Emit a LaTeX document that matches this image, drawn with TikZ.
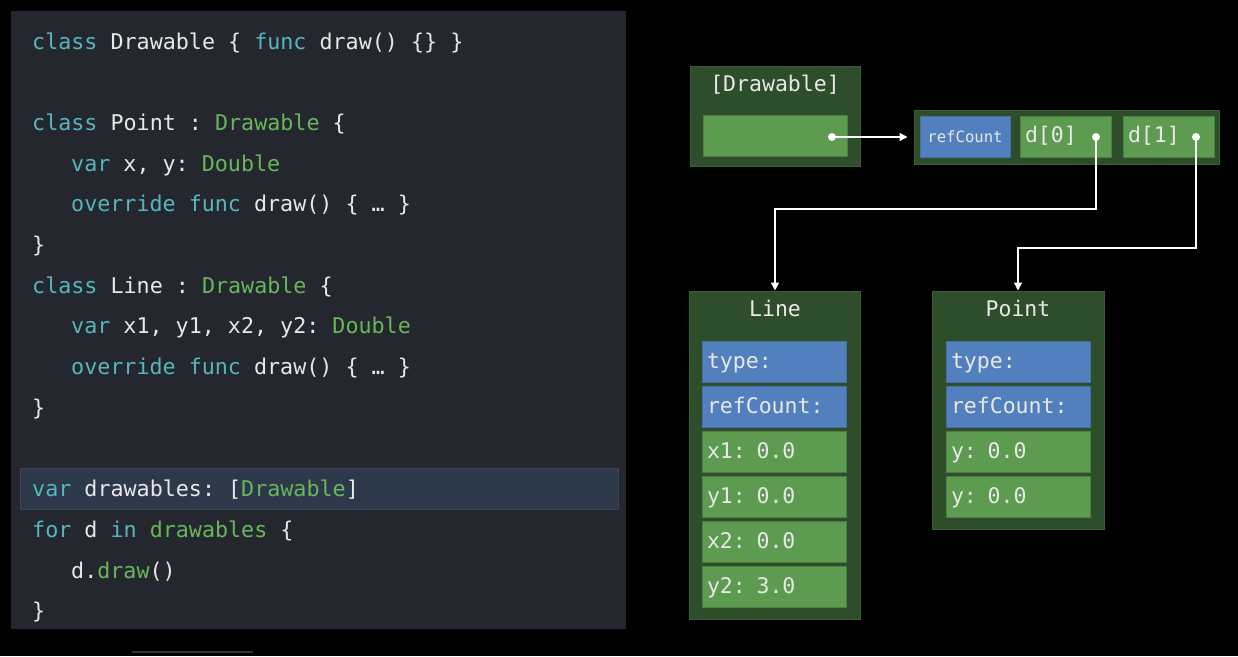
\documentclass[tikz,border=0pt]{standalone}
\usepackage{fontspec}
\setmonofont{DejaVu Sans Mono}
\usepackage{xcolor}
\usetikzlibrary{calc}
\usetikzlibrary{arrows.meta}

\definecolor{panelbg}{HTML}{25272F}
\definecolor{hlbg}{HTML}{2D394B}
\definecolor{hledge}{HTML}{3A4658}
\definecolor{kwteal}{HTML}{55B6BE}
\definecolor{typegreen}{HTML}{67B75A}
\definecolor{codewhite}{HTML}{E8E8E8}
\definecolor{boxfill}{HTML}{2E4D2A}
\definecolor{boxedge}{HTML}{3B5D36}
\definecolor{cellgreen}{HTML}{5D9B51}
\definecolor{celledge}{HTML}{4A7F41}
\definecolor{metablue}{HTML}{5280BF}
\definecolor{metaedge}{HTML}{456EA6}

\newcommand{\kwd}[1]{\textcolor{kwteal}{#1}}
\newcommand{\typ}[1]{\textcolor{typegreen}{#1}}

\begin{document}
\begin{tikzpicture}[x=1pt,y=-1pt]
        \tikzstyle{codeline} = [anchor=base west, inner sep=0pt, text=codewhite, font=\ttfamily\fontsize{21.7}{26}\selectfont]
        \tikzstyle{objbox} = [rectangle, draw=boxedge, fill=boxfill, line width=1pt, inner sep=0pt]
        \tikzstyle{boxtitle} = [anchor=base, inner sep=0pt, text=codewhite, font=\ttfamily\fontsize{21.5}{25}\selectfont]
        \tikzstyle{field} = [rectangle, line width=0.8pt, minimum width=144pt, minimum height=41pt, text width=134pt, inner xsep=5pt, inner ysep=0pt, align=left, text height=16pt, text depth=4pt, text=codewhite, font=\ttfamily\fontsize{21.5}{25}\selectfont]
        \tikzstyle{valcell} = [field, draw=celledge, fill=cellgreen]
        \tikzstyle{metacell} = [field, draw=metaedge, fill=metablue]
        \tikzstyle{ptrdot} = [circle, fill=white, minimum size=8pt, inner sep=0pt]
        \tikzstyle{ptr} = [draw=white, line width=1.5pt, -{Triangle[length=8pt,width=8pt]}]

        \fill[black] (0,0) rectangle (1238,656);
        \useasboundingbox (0,0) rectangle (1238,656);
        \draw[line width=2pt, color=black!80!white] (132,652) -- (253,652);

        % code panel
        \node[rectangle, fill=panelbg, minimum width=615pt, minimum height=618pt, inner sep=0pt] (panel) at (318.5,320) {};
        \node[rectangle, fill=hlbg, draw=hledge, line width=1pt, minimum width=598pt, minimum height=41pt, inner sep=0pt] (hl) at (319,488.5) {};

        \node[codeline] (ln1) at (32,49) {\kwd{class} Drawable \{ \kwd{func} draw() \{\} \}};
        \node[codeline] (ln3) at (32,130.4) {\kwd{class} Point : \typ{Drawable} \{};
        \node[codeline] (ln4) at (71,171.1) {\kwd{var} x, y: \typ{Double}};
        \node[codeline] (ln5) at (71,211.8) {\kwd{override} \kwd{func} draw() \{ … \}};
        \node[codeline] (ln6) at (32,252.5) {\}};
        \node[codeline] (ln7) at (32,293.2) {\kwd{class} Line : \typ{Drawable} \{};
        \node[codeline] (ln8) at (71,333.9) {\kwd{var} x1, y1, x2, y2: \typ{Double}};
        \node[codeline] (ln9) at (71,374.6) {\kwd{override} \kwd{func} draw() \{ … \}};
        \node[codeline] (ln10) at (32,415.3) {\}};
        \node[codeline] (ln12) at (32,496.7) {\kwd{var} drawables: [\typ{Drawable}]};
        \node[codeline] (ln13) at (32,537.4) {\kwd{for} d \kwd{in} \typ{drawables} \{};
        \node[codeline] (ln14) at (71,578.1) {d.\typ{draw}()};
        \node[codeline] (ln15) at (32,618.8) {\}};

        % the variable and its buffer
        \node[objbox, minimum width=170pt, minimum height=100pt] (var) at (775,116) {};
        \node[boxtitle] (vartitle) at (775,91) {[Drawable]};
        \node[valcell] (varcell) at (775,135.5) {};
        \node[ptrdot] (vardot) at (832,137) {};

        \node[objbox, minimum width=305pt, minimum height=54pt] (arr) at (1066.5,137) {};
        \node[metacell, minimum width=90pt, text width=80pt, align=center, font=\ttfamily\fontsize{15.6}{18}\selectfont] (arrrc) at (965,136.5) {refCount};
        \node[valcell, minimum width=91pt, text width=81pt] (d0) at (1065.5,136.5) {d[0]};
        \node[valcell, minimum width=91pt, text width=81pt] (d1) at (1168.5,136.5) {d[1]};
        \node[ptrdot] (d0dot) at (1096,137) {};
        \node[ptrdot] (d1dot) at (1196,137) {};

        % heap objects
        \node[objbox, minimum width=171pt, minimum height=328pt] (line) at (775,455) {};
        \node[boxtitle] (linetitle) at (775,316) {Line};
        \foreach \lab/\sty [count=\i] in {type:/metacell, refCount:/metacell, x1: 0.0/valcell, y1: 0.0/valcell, x2: 0.0/valcell, y2: 3.0/valcell}
        {
                \node[\sty] (lf\i) at ($(line.north) + (-1, {26.5+45*\i})$) {\lab};
        }

        \node[objbox, minimum width=172pt, minimum height=238pt] (point) at (1018,410) {};
        \node[boxtitle] (pointtitle) at (1018,316) {Point};
        \foreach \lab/\sty [count=\i] in {type:/metacell, refCount:/metacell, y: 0.0/valcell, y: 0.0/valcell}
        {
                \node[\sty] (pf\i) at ($(point.north) + (0, {26.5+45*\i})$) {\lab};
        }

        \draw[ptr, shorten >=6pt] (vardot.center) -- (arr.west);
        \draw[ptr] (d0dot.center) -- ++(0,72) -| (line.north);
        \draw[ptr] (d1dot.center) -- ++(0,111) -| (point.north);
\end{tikzpicture}
\end{document}
